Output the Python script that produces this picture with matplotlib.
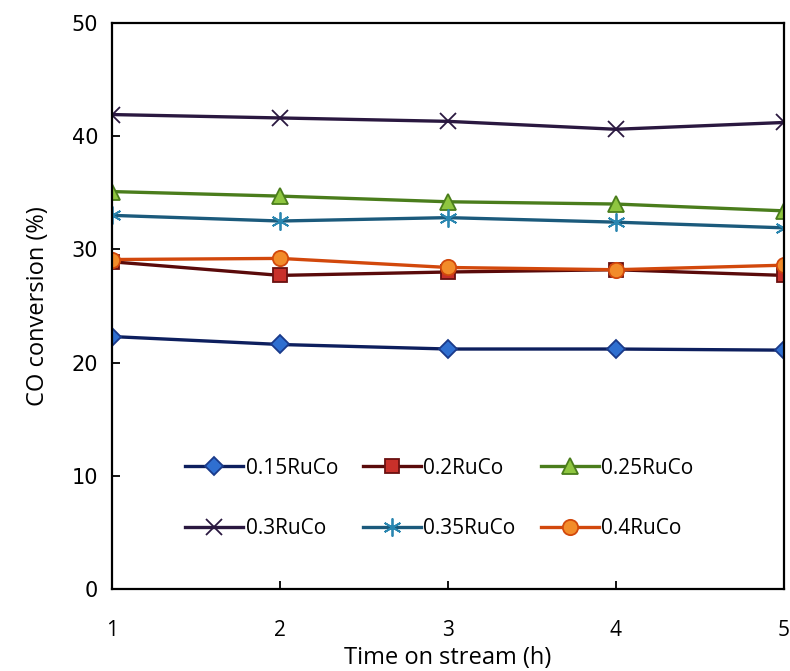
import matplotlib
matplotlib.use("Agg")
import matplotlib.pyplot as plt

# time on stream (h)
hours = [1, 2, 3, 4, 5]

# CO conversion (%) per catalyst
ru015 = [22.3, 21.6, 21.2, 21.2, 21.1]
ru020 = [28.9, 27.7, 28.0, 28.2, 27.7]
ru025 = [35.1, 34.7, 34.2, 34.0, 33.4]
ru030 = [41.9, 41.6, 41.3, 40.6, 41.2]
ru035 = [33.0, 32.5, 32.8, 32.4, 31.9]
ru040 = [29.1, 29.2, 28.4, 28.2, 28.6]

labels = ['0.15RuCo', '0.2RuCo', '0.25RuCo', '0.3RuCo', '0.35RuCo', '0.4RuCo']

fig = plt.figure(figsize=(7.9, 6.71), dpi=100)
ax = fig.add_axes([0.142, 0.122, 0.85, 0.844])

# estilo de cada serie: cor da linha, marcador, preenchimento, borda
estilos = [
    ('#0d1f5e', 'D', '#2f6fd0', '#1a3a8a', 9),
    ('#5a0a0a', 's', '#c8302a', '#6a1010', 10),
    ('#4a7d1c', '^', '#8fc640', '#4a7d1c', 11),
    ('#2a1840', 'x', 'none', '#2a1840', 12),
    ('#1b5a7c', '*', 'none', '#2a86b0', 0),
    ('#d2480c', 'o', '#f28c2a', '#d2480c', 11),
]
series = [ru015, ru020, ru025, ru030, ru035, ru040]

linhas = []
for y, lab, (lc, mk, mfc, mec, ms) in zip(series, labels, estilos):
    if mk == '*':
        l, = ax.plot(hours, y, color=lc, lw=2.4, marker=(6, 2, 0), markersize=13,
                     markeredgecolor=mec, markeredgewidth=1.3, label=lab)
    else:
        l, = ax.plot(hours, y, color=lc, lw=2.4, marker=mk, markersize=ms,
                     markerfacecolor=mfc, markeredgecolor=mec,
                     markeredgewidth=1.3, label=lab)
    linhas.append(l)

ax.set_xlim(1, 5)
ax.set_ylim(0, 50)
ax.set_xticks([1, 2, 3, 4, 5])
ax.set_yticks([0, 10, 20, 30, 40, 50])
ax.tick_params(direction='in', length=6, width=1.3, labelsize=15)
ax.tick_params(axis='y', pad=10)
ax.tick_params(axis='x', pad=22, labelsize=15)
for lbl in ax.get_xticklabels():
    lbl.set_family('Open Sans')
for sp in ax.spines.values():
    sp.set_linewidth(1.6)

ax.set_xlabel('Time on stream (h)', fontsize=17, family='Open Sans', labelpad=4)
ax.set_ylabel('CO conversion (%)', fontsize=17, family='Open Sans', labelpad=16)

# legenda preenchida por linha (ordem do Excel)
ordem = [0, 3, 1, 4, 2, 5]
ax.legend([linhas[i] for i in ordem], [labels[i] for i in ordem],
          ncol=3, loc='center', bbox_to_anchor=(0.487, 0.16),
          frameon=False, prop={'family': 'Open Sans', 'size': 15},
          handlelength=2.8, handletextpad=0.1, columnspacing=1.2,
          labelspacing=1.9)

fig.savefig('out.png', dpi=100)
